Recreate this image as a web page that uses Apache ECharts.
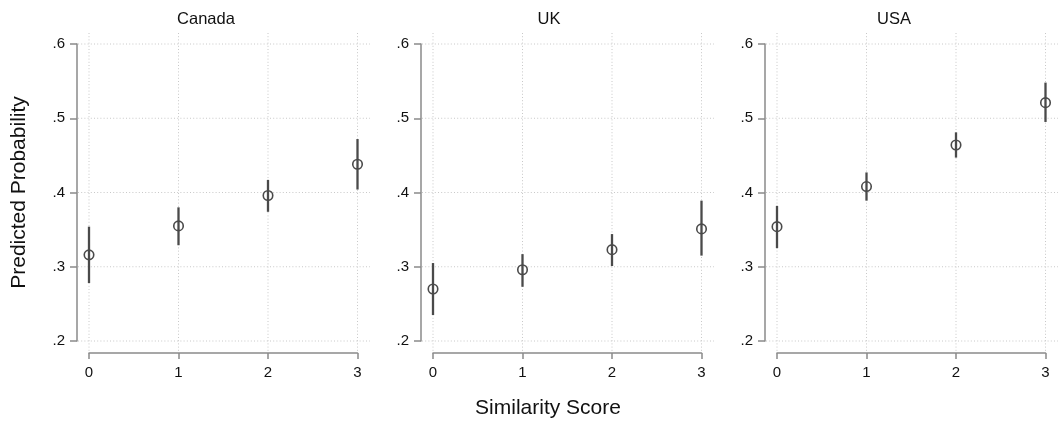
<!DOCTYPE html>
<html>
<head>
<meta charset="utf-8">
<script src="https://cdn.jsdelivr.net/npm/echarts@6/dist/echarts.min.js"></script>
<style>
  html, body { margin: 0; padding: 0; background: #ffffff; }
  #chart { width: 1060px; height: 422px; }
</style>
</head>
<body>
<div id="chart"></div>
<script>
// Similarity score categories on the x axis
const scores = [0, 1, 2, 3];

// Predicted probabilities with 95% confidence limits
const canadaEst = [0.316, 0.355, 0.396, 0.438];
const canadaLo  = [0.278, 0.329, 0.374, 0.404];
const canadaHi  = [0.354, 0.380, 0.417, 0.472];

const ukEst = [0.270, 0.296, 0.323, 0.351];
const ukLo  = [0.235, 0.273, 0.301, 0.315];
const ukHi  = [0.305, 0.317, 0.344, 0.389];

const usaEst = [0.354, 0.408, 0.464, 0.521];
const usaLo  = [0.325, 0.389, 0.447, 0.495];
const usaHi  = [0.382, 0.427, 0.481, 0.548];

const panelNames = ['Canada', 'UK', 'USA'];

// Axis ticks
const yTicks = [0.2, 0.3, 0.4, 0.5, 0.6];
const yTickLabels = ['.2', '.3', '.4', '.5', '.6'];
const xTicks = [0, 1, 2, 3];

const FONT = '"Liberation Sans", Arial, Helvetica, sans-serif';
const INK = '#4a4a4a';
const AXIS = '#8a8a8a';
const GRIDC = '#c8c8c8';
const TEXT = '#111111';

const panels = [
  { name: panelNames[0], est: canadaEst, lo: canadaLo, hi: canadaHi },
  { name: panelNames[1], est: ukEst, lo: ukLo, hi: ukHi },
  { name: panelNames[2], est: usaEst, lo: usaLo, hi: usaHi }
];

// Panel layout (pixels)
const gridLefts = [89, 433, 777];
const gridWidth = 268.5;
const gridTop = 44;
const gridHeight = 297;
const titleCenters = [206, 549, 894];
const AXIS_OFFSET = 12;

const grids = [], xAxes = [], yAxes = [], series = [], titles = [];

panels.forEach((p, i) => {
  grids.push({
    left: gridLefts[i], top: gridTop, width: gridWidth, height: gridHeight,
    containLabel: false, outerBoundsMode: 'none'
  });

  xAxes.push({
    gridIndex: i, type: 'value', min: 0, max: 3, interval: 1,
    position: 'bottom', offset: AXIS_OFFSET,
    axisLine: { show: true, onZero: false, lineStyle: { color: AXIS, width: 1.5 } },
    axisTick: { show: true, length: 6, lineStyle: { color: AXIS, width: 1.5 } },
    axisLabel: { show: true, margin: 12, color: TEXT, fontSize: 15, fontFamily: FONT },
    splitLine: { show: false }
  });

  yAxes.push({
    gridIndex: i, type: 'value', min: 0.2, max: 0.6, interval: 0.1,
    position: 'left', offset: AXIS_OFFSET,
    axisLine: { show: true, onZero: false, lineStyle: { color: AXIS, width: 1.5 } },
    axisTick: { show: true, length: 7, lineStyle: { color: AXIS, width: 1.5 } },
    axisLabel: {
      show: true, margin: 12, color: TEXT, fontSize: 15, fontFamily: FONT,
      formatter: v => {
        const k = yTicks.findIndex(t => Math.abs(t - v) < 1e-9);
        return k >= 0 ? yTickLabels[k] : '';
      }
    },
    splitLine: { show: false },
    name: i === 0 ? 'Predicted Probability' : '',
    nameLocation: 'middle', nameGap: 47,
    nameTextStyle: { fontSize: 21, color: TEXT, fontFamily: FONT }
  });

  titles.push({
    text: p.name, left: titleCenters[i], top: 11, textAlign: 'center', padding: 0,
    textStyle: { fontSize: 16.5, fontWeight: 'normal', color: TEXT, fontFamily: FONT }
  });

  // Dotted horizontal grid lines running from the y axis to past the last score
  series.push({
    type: 'custom', xAxisIndex: i, yAxisIndex: i, silent: true, clip: false, z: 1,
    data: yTicks.map(v => [0, v]),
    renderItem: (params, api) => {
      const v = api.value(1);
      const a = api.coord([0, v]);
      const b = api.coord([3, v]);
      return {
        type: 'line',
        shape: { x1: a[0] - AXIS_OFFSET + 1, y1: a[1], x2: b[0] + 12.5, y2: b[1] },
        style: { stroke: GRIDC, lineWidth: 1, lineDash: [1, 2.2] }
      };
    }
  });

  // Dotted vertical grid lines running from above the top to the x axis
  series.push({
    type: 'custom', xAxisIndex: i, yAxisIndex: i, silent: true, clip: false, z: 1,
    data: xTicks.map(x => [x, 0.6]),
    renderItem: (params, api) => {
      const x = api.value(0);
      const a = api.coord([x, 0.6]);
      const b = api.coord([x, 0.2]);
      return {
        type: 'line',
        shape: { x1: a[0], y1: a[1] - 11, x2: b[0], y2: b[1] + AXIS_OFFSET - 1 },
        style: { stroke: GRIDC, lineWidth: 1, lineDash: [1, 2.2] }
      };
    }
  });

  // Confidence interval spikes
  series.push({
    type: 'custom', xAxisIndex: i, yAxisIndex: i, silent: true, clip: false, z: 3,
    data: scores.map((s, k) => [s, p.lo[k], p.hi[k]]),
    renderItem: (params, api) => {
      const lo = api.coord([api.value(0), api.value(1)]);
      const hi = api.coord([api.value(0), api.value(2)]);
      return {
        type: 'line',
        shape: { x1: lo[0], y1: lo[1], x2: hi[0], y2: hi[1] },
        style: { stroke: INK, lineWidth: 2.3 }
      };
    }
  });

  // Point estimates as hollow circles
  series.push({
    type: 'scatter', xAxisIndex: i, yAxisIndex: i, silent: true, z: 4,
    symbol: 'circle', symbolSize: 9.5,
    itemStyle: { color: 'rgba(0,0,0,0)', borderColor: INK, borderWidth: 1.6, opacity: 1 },
    data: scores.map((s, k) => [s, p.est[k]])
  });
});

titles.push({
  text: 'Similarity Score', left: 548, top: 398, textAlign: 'center', padding: 0,
  textStyle: { fontSize: 21, fontWeight: 'normal', color: TEXT, fontFamily: FONT }
});

const chart = echarts.init(document.getElementById('chart'), null, { renderer: 'canvas' });
chart.setOption({
  backgroundColor: '#ffffff',
  animation: false,
  title: titles,
  grid: grids,
  xAxis: xAxes,
  yAxis: yAxes,
  series: series
});
</script>
</body>
</html>
